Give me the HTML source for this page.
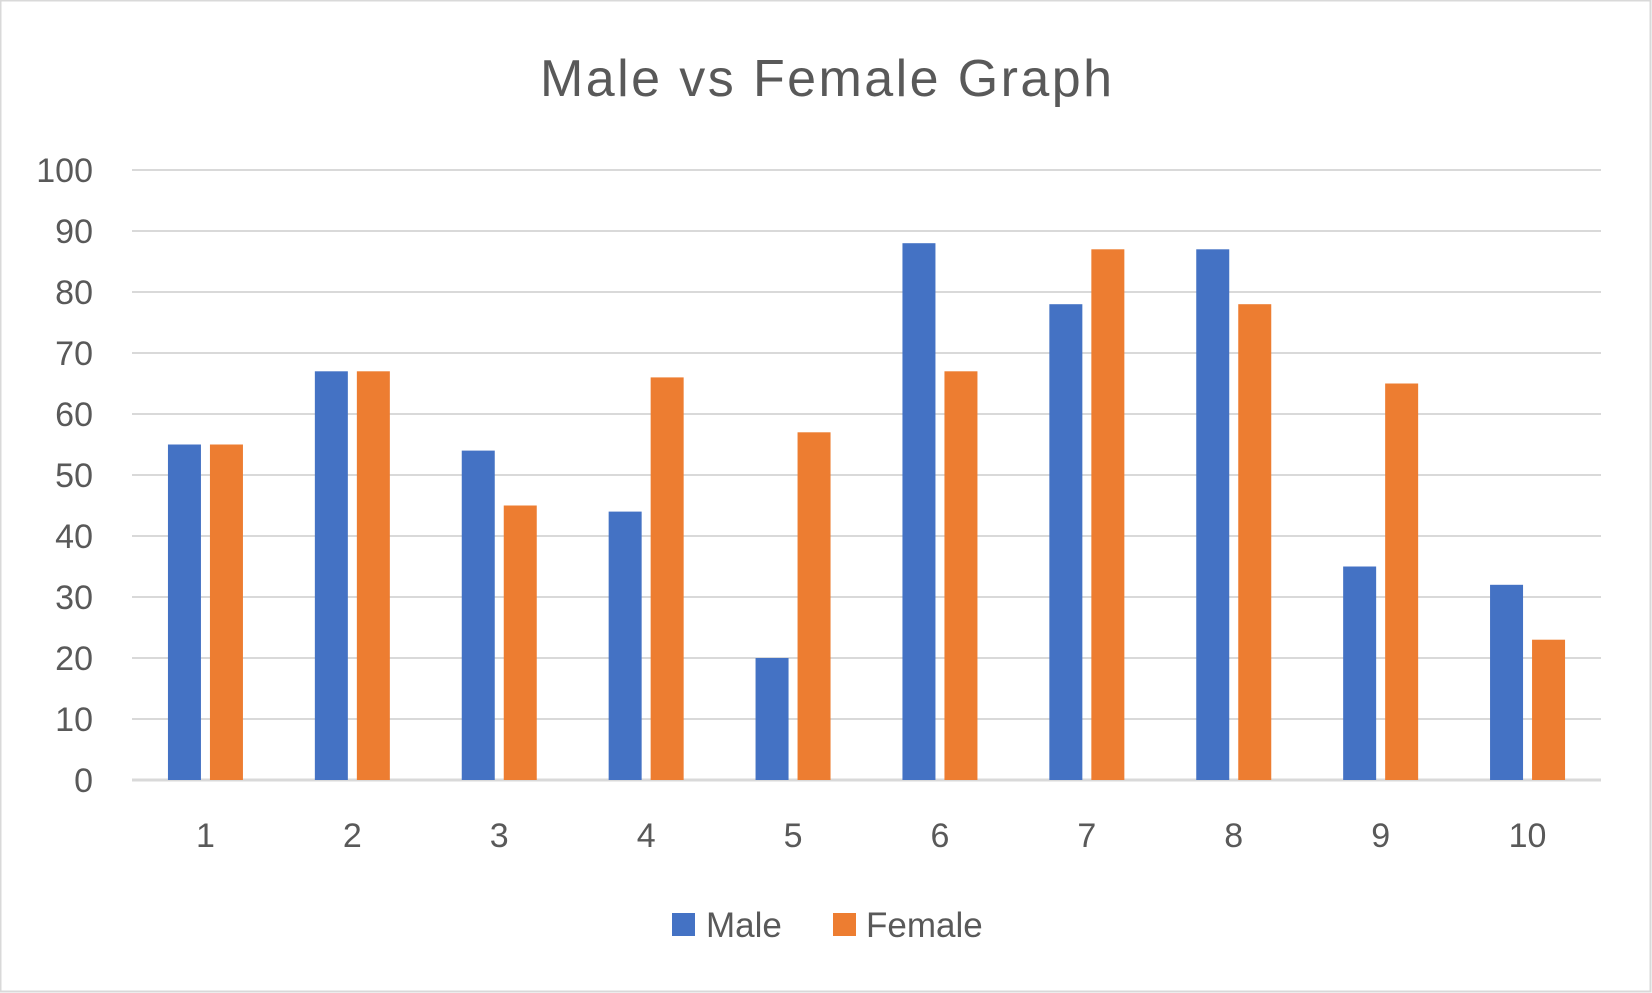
<!DOCTYPE html>
<html><head><meta charset="utf-8"><style>
html,body{margin:0;padding:0;background:#fff}
svg{display:block;font-family:"Liberation Sans",sans-serif}
</style></head><body>
<svg id="chart" width="1652" height="993">
<rect x="0.5" y="0.5" width="1650" height="991" fill="#fff" stroke="#d9d9d9" stroke-width="2"/>
<text x="826" y="96" text-anchor="middle" font-size="52" fill="#595959" textLength="572">Male vs Female Graph</text>
<g id="grid"></g><g id="bars"></g><g id="labels"></g>
<g>
<rect x="672" y="913" width="23" height="23" fill="#4472c4"/>
<text x="706" y="937" font-size="35" fill="#595959">Male</text>
<rect x="833" y="913" width="23" height="23" fill="#ed7d31"/>
<text x="866" y="937" font-size="35" fill="#595959">Female</text>
</g>
</svg>
<script>
const categories=["1","2","3","4","5","6","7","8","9","10"];
const maleValues=[55,67,54,44,20,88,78,87,35,32];
const femaleValues=[55,67,45,66,57,67,87,78,65,23];
const yTicks=[0,10,20,30,40,50,60,70,80,90,100];
const NS="http://www.w3.org/2000/svg";
const L=132,R=1601,T=170,B=780,yMax=100;
const y=v=>B-(B-T)*v/yMax;
const cw=(R-L)/categories.length;
const cx=i=>L+cw*(i+0.5);
function mk(tag,attrs,parent){const e=document.createElementNS(NS,tag);for(const k in attrs)e.setAttribute(k,attrs[k]);document.getElementById(parent).appendChild(e);return e;}
yTicks.forEach(t=>{
 const g=mk('line',{x1:L,x2:R,y1:y(t),y2:y(t),stroke:'#d9d9d9','stroke-width':t===0?3:2},'grid');
 
 
 const tx=mk('text',{x:93,y:y(t)+12,'text-anchor':'end','font-size':34,fill:'#595959'},'labels');
 tx.textContent=t;
 
 
});
const bw=33,gap=9;
categories.forEach((c,i)=>{
 const m=mk('rect',{x:cx(i)-gap/2-bw,y:y(maleValues[i]),width:bw,height:B-y(maleValues[i]),fill:'#4472c4'},'bars');
 
 
 const f=mk('rect',{x:cx(i)+gap/2,y:y(femaleValues[i]),width:bw,height:B-y(femaleValues[i]),fill:'#ed7d31'},'bars');
 
 
 const tx=mk('text',{x:cx(i),y:847,'text-anchor':'middle','font-size':34,fill:'#595959'},'labels');
 tx.textContent=c;
 
 
});
</script>
</body></html>
